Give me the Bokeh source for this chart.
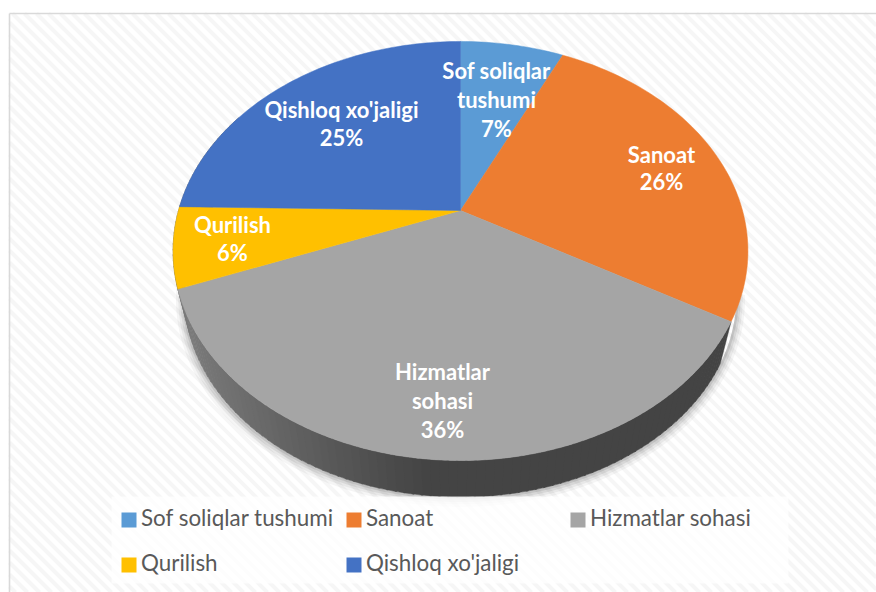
import numpy as np
from bokeh.plotting import figure
from bokeh.models import Range1d
from bokeh.core.properties import value
from bokeh.embed import file_html
from bokeh.resources import INLINE

categories = ["Sof soliqlar tushumi", "Sanoat", "Hizmatlar sohasi", "Qurilish", "Qishloq xo'jaligi"]
shares = [7, 26.3, 35.8, 6.2, 24.7]
colors = ["#5B9BD5", "#ED7D31", "#A5A5A5", "#FFC000", "#4472C4"]
label_lines = [["Sof soliqlar", "tushumi", "7%"], ["Sanoat", "26%"], ["Hizmatlar", "sohasi", "36%"], ["Qurilish", "6%"], ["Qishloq xo'jaligi", "25%"]]

W, H = 876, 592
FONT = "Lato"

cx, cy = 460, 210
R, A, K = 282.0, 201.7, 0.1933
SHRINK, DROP = 0.96, 46.5

def project(theta_deg):
    t = np.radians(theta_deg)
    u, v = np.sin(t), np.cos(t)
    d = 1 + K * v
    return cx + R * u / d, cy - A * v / d

def project_low(theta_deg, grow=0.0):
    x, y = project(theta_deg)
    s = SHRINK + grow
    return cx + s * (x - cx), cy + s * (y - cy) + DROP

p = figure(width=W, height=H, output_backend="svg", toolbar_location=None,
           x_range=Range1d(0, W), y_range=Range1d(H, 0), min_border=0,
           x_axis_location=None, y_axis_location=None, outline_line_color=None,
           background_fill_color="white", border_fill_color="white")
p.grid.visible = False

# chart background: diagonal stripes clipped to the frame, and the frame itself
fx0, fy0 = 9.0, 13.0
sx, sy = [], []
for c in np.arange(fy0 - W, H, 12.0):      # stripe: y = x + c
    x0 = max(fx0, fy0 - c)
    x1 = min(W, H - c)
    if x1 > x0:
        sx.append([x0, x1])
        sy.append([x0 + c, x1 + c])
p.multi_line(sx, sy, line_color="#F6F6F6", line_width=4)
p.segment(x0=[fx0, fx0], y0=[fy0, fy0], x1=[fx0, W], y1=[H, fy0], line_color="#D9D9D9", line_width=1.6)

# soft shadow under the pie
th = np.linspace(100, 290, 121)
for grow, off, alpha in [(0.03, 6, 0.04), (0.022, 4.5, 0.05), (0.015, 3, 0.07), (0.008, 1.5, 0.09)]:
    x1, y1 = project_low(th, grow)
    x2, y2 = project_low(th)
    p.patch(np.r_[x1, x2[::-1]], np.r_[y1 + off * 0.4, y2[::-1]], fill_color="#000000", fill_alpha=alpha, line_color=None)

# side wall of the pie: strips shaded from the left towards the front
hiz_start = sum(shares[:2]) * 3.6
edges = np.linspace(hiz_start, 300, 120)
for a0, a1 in zip(edges[:-1], edges[1:]):
    tt = np.linspace(a0, a1 + 0.3, 4)
    x0, y0 = project(tt)
    x1, y1 = project_low(tt)
    xs = np.r_[x0, x1[::-1]]
    ys = np.r_[y0, y1[::-1]]
    s = np.clip((430 - x1.mean()) / (430 - 200), 0, 1)
    g = int(68 + 54 * s ** 1.1)
    col = "#%02x%02x%02x" % (g, g, g)
    p.patch(xs, ys, fill_color=col, line_color=col, line_width=0.5)

# pie faces
cum = 0
for share, col in zip(shares, colors):
    th = np.linspace(cum * 3.6, (cum + share) * 3.6, max(int(share * 3), 8))
    x, y = project(th)
    p.patch(np.r_[cx, x], np.r_[cy, y], fill_color=col, line_color=col, line_width=0.5)
    cum += share

# data labels
label_anchor = [(496, 70), (661, 154), (442, 371), (232, 224), (341, 109)]
line_step = [29, 27, 29, 28, 28]
for lines, (lx, ly), step in zip(label_lines, label_anchor, line_step):
    p.text([lx] * len(lines), [ly + i * step for i in range(len(lines))], text=lines,
           text_color="white", text_font=value(FONT), text_font_style="bold",
           text_font_size="22px", text_align="center", text_baseline="middle")

# legend
p.quad(left=111, right=788, top=496, bottom=583, fill_color="white", fill_alpha=0.8, line_color=None)
legend_x = [121, 346, 570, 121, 346]
legend_y = [519.5, 519.5, 519.5, 564.5, 564.5]
for name, col, lx, ly in zip(categories, colors, legend_x, legend_y):
    p.quad(left=lx, right=lx + 15, top=ly - 7.5, bottom=ly + 7.5, fill_color=col, line_color=None)
    p.text([lx + 19.5], [ly - 2.5], text=[name], text_color="#595959", text_font=value(FONT),
           text_font_size="22.4px", text_align="left", text_baseline="middle")

open("out.html", "w").write(file_html(p, INLINE))
